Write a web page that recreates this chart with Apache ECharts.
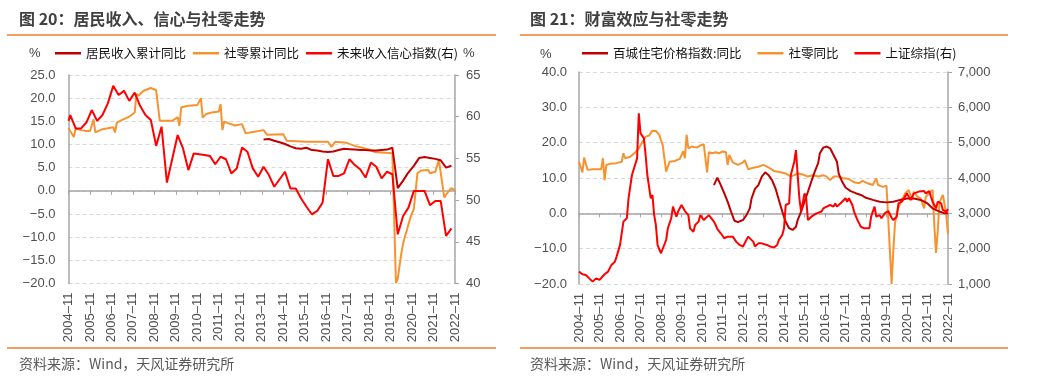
<!DOCTYPE html>
<html><head><meta charset="utf-8">
<script src="https://cdn.jsdelivr.net/npm/echarts/dist/echarts.min.js"></script>
<style>html,body{margin:0;padding:0;background:#fff}#c{width:1041px;height:385px}</style>
</head><body><div id="c"></div>
<script>
// ---------- categories (monthly, 2004-11 .. 2022-11) ----------
const months = [];
for (let i = 0; i <= 216; i++) { const t = 2004 * 12 + 10 + i; months.push(Math.floor(t / 12) + '-' + String(t % 12 + 1).padStart(2, '0')); }

// ---------- left panel: 图20 ----------
const incomeCumYoY = [['2013-12',11.1],['2014-03',11.2],['2014-06',10.8],['2014-09',10.5],['2014-12',10.1],['2015-03',9.6],['2015-06',9.2],['2015-09',9.1],['2015-12',9.3],['2016-03',8.8],['2016-06',8.7],['2016-09',8.5],['2016-12',8.4],['2017-03',8.5],['2017-06',8.8],['2017-09',9.1],['2017-12',9.0],['2018-03',8.9],['2018-06',8.8],['2018-09',8.8],['2018-12',8.7],['2019-03',8.7],['2019-06',8.8],['2019-09',8.9],['2019-12',9.3],['2020-03',0.6],['2020-06',2.2],['2020-09',4.0],['2020-12',5.4],['2021-03',7.1],['2021-06',7.3],['2021-09',7.1],['2021-12',6.9],['2022-03',6.6],['2022-06',5.0],['2022-09',5.4]];

const retailCumYoY = [['2004-11',13.5],['2004-12',13.4],['2005-02',11.6],['2005-03',13.5],['2005-06',13.1],['2005-09',12.9],['2005-11',12.9],['2006-01',15.4],['2006-02',12.6],['2006-06',13.3],['2006-12',13.7],['2007-01',12.6],['2007-02',14.7],['2007-05',15.3],['2007-09',16.0],['2007-12',16.9],['2008-01',21.0],['2008-02',20.5],['2008-05',21.6],['2008-09',22.2],['2008-12',21.7],['2009-02',15.1],['2009-09',15.1],['2009-12',15.9],['2010-01',14.0],['2010-02',18.0],['2010-05',18.3],['2010-11',18.5],['2011-01',20.0],['2011-02',15.8],['2011-04',16.6],['2011-07',16.9],['2011-11',17.1],['2011-12',18.7],['2012-01',13.1],['2012-02',14.9],['2012-05',14.5],['2012-08',14.1],['2012-12',14.4],['2013-02',12.4],['2013-06',12.7],['2013-12',13.1],['2014-02',12.1],['2014-11',12.2],['2015-01',10.8],['2015-12',10.6],['2016-01',10.4],['2016-12',10.6],['2017-02',9.5],['2017-04',10.6],['2017-10',10.4],['2018-03',9.7],['2018-12',8.8],['2019-02',8.4],['2019-03',8.0],['2019-08',8.2],['2019-12',8.1],['2020-01',8.0],['2020-02',-19.9],['2020-03',-19.0],['2020-04',-16.2],['2020-05',-13.5],['2020-06',-11.4],['2020-07',-9.9],['2020-08',-8.6],['2020-09',-7.2],['2020-10',-5.9],['2020-11',-4.8],['2020-12',-3.9],['2021-02',3.8],['2021-04',4.4],['2021-08',4.5],['2021-09',3.8],['2021-12',4.1],['2022-02',6.7],['2022-05',-1.4],['2022-07',-0.3],['2022-09',0.6],['2022-11',0.1]];

const incomeConfidence = [['2004-11',59.5],['2004-12',60.2],['2005-03',58.6],['2005-06',58.6],['2005-09',59.3],['2005-12',60.8],['2006-03',59.5],['2006-06',60.2],['2006-09',61.6],['2006-12',63.7],['2007-03',62.6],['2007-06',63.1],['2007-09',61.9],['2007-12',62.9],['2008-03',61.3],['2008-06',60.2],['2008-09',59.6],['2008-12',56.5],['2009-03',58.8],['2009-06',52.1],['2009-12',57.8],['2010-03',56.2],['2010-06',53.6],['2010-09',55.6],['2010-12',55.5],['2011-03',55.4],['2011-06',55.3],['2011-09',54.3],['2011-12',55.2],['2012-03',54.9],['2012-06',53.2],['2012-09',53.8],['2012-12',56.3],['2013-03',55.8],['2013-06',53.8],['2013-09',52.8],['2013-12',54.0],['2014-03',53.0],['2014-06',51.6],['2014-12',53.4],['2015-03',51.4],['2015-06',51.4],['2015-09',50.2],['2015-12',49.2],['2016-03',48.3],['2016-06',48.7],['2016-09',49.7],['2016-12',54.9],['2017-03',52.9],['2017-06',52.9],['2017-09',53.2],['2017-12',54.9],['2018-03',54.2],['2018-06',53.7],['2018-09',52.7],['2018-12',54.5],['2019-03',54.0],['2019-06',52.6],['2019-09',53.4],['2019-12',53.1],['2020-03',45.9],['2020-06',48.1],['2020-09',49.1],['2020-12',51.1],['2021-03',51.1],['2021-06',51.1],['2021-09',49.4],['2021-12',49.9],['2022-03',49.9],['2022-06',45.7],['2022-09',46.6]];

// ---------- right panel: 图21 ----------
const housePriceYoY = [['2011-06',8.0],['2011-08',10.1],['2011-10',8.0],['2011-12',5.7],['2012-02',3.3],['2012-04',0.5],['2012-06',-2.1],['2012-08',-2.5],['2012-11',-1.9],['2013-01',-0.5],['2013-03',1.4],['2013-04',4.2],['2013-06',6.9],['2013-08',8.0],['2013-10',10.4],['2013-12',11.6],['2014-02',10.8],['2014-04',9.4],['2014-06',7.1],['2014-08',3.8],['2014-10',0.5],['2014-12',-2.4],['2015-02',-4.2],['2015-04',-4.7],['2015-06',-3.8],['2015-07',-1.9],['2015-09',0.5],['2015-11',3.3],['2016-01',6.1],['2016-03',9.0],['2016-05',11.8],['2016-07',14.2],['2016-08',17.0],['2016-10',18.6],['2016-12',18.9],['2017-02',18.4],['2017-04',16.5],['2017-06',14.6],['2017-07',11.3],['2017-09',9.0],['2017-11',7.3],['2018-02',6.3],['2018-05',5.7],['2018-08',5.2],['2018-11',4.4],['2019-03',3.8],['2019-07',3.3],['2019-11',3.1],['2020-03',3.3],['2020-07',3.8],['2020-11',4.2],['2021-03',4.2],['2021-07',3.8],['2021-11',2.8],['2022-02',1.4],['2022-06',0.5],['2022-09',0.0],['2022-11',0.0]];

const retailYoY = [['2004-11',14.6],['2004-12',14.2],['2005-01',11.6],['2005-02',15.8],['2005-04',12.3],['2005-05',12.7],['2005-07',12.5],['2005-10',12.5],['2005-12',12.5],['2006-01',15.6],['2006-02',9.4],['2006-03',13.7],['2006-05',14.0],['2006-09',14.2],['2006-12',14.6],['2007-01',17.0],['2007-02',15.6],['2007-05',16.0],['2007-08',17.3],['2007-10',18.4],['2007-12',20.1],['2008-02',21.7],['2008-04',22.0],['2008-06',23.4],['2008-08',23.3],['2008-10',22.2],['2008-12',19.3],['2009-01',18.9],['2009-02',11.8],['2009-04',14.6],['2009-07',14.8],['2009-10',15.4],['2009-11',16.5],['2009-12',17.6],['2010-01',15.6],['2010-02',22.2],['2010-03',18.4],['2010-05',18.9],['2010-08',18.6],['2010-10',19.2],['2010-12',19.6],['2011-01',19.3],['2011-02',11.6],['2011-03',17.3],['2011-05',17.0],['2011-07',17.3],['2011-09',17.0],['2011-11',17.5],['2012-01',17.3],['2012-02',13.7],['2012-03',16.5],['2012-05',14.4],['2012-08',13.7],['2012-11',14.4],['2012-12',15.1],['2013-02',12.5],['2013-05',12.9],['2013-08',13.2],['2013-11',13.7],['2014-01',13.2],['2014-03',12.7],['2014-05',12.0],['2014-06',11.6],['2014-09',11.6],['2014-12',11.3],['2015-03',10.4],['2015-05',10.8],['2015-07',11.3],['2015-10',11.0],['2016-01',10.4],['2016-04',10.8],['2016-07',10.4],['2016-10',10.8],['2016-12',10.4],['2017-02',9.4],['2017-04',10.4],['2017-07',10.4],['2017-10',9.9],['2018-01',9.7],['2018-04',8.8],['2018-07',8.5],['2018-09',9.2],['2018-12',8.5],['2019-03',8.0],['2019-05',9.9],['2019-06',8.0],['2019-09',7.5],['2019-11',7.8],['2019-12',8.0],['2020-02',-20.0],['2020-03',-10.4],['2020-04',-2.8],['2020-05',0.0],['2020-06',1.5],['2020-07',2.8],['2020-08',4.0],['2020-09',4.7],['2020-10',5.7],['2020-11',6.1],['2020-12',6.6],['2021-02',3.8],['2021-03',6.1],['2021-05',4.7],['2021-07',4.2],['2021-09',1.4],['2021-10',4.7],['2021-11',5.2],['2021-12',5.7],['2022-02',6.6],['2022-03',-3.5],['2022-04',-11.2],['2022-05',-5.0],['2022-06',3.1],['2022-07',2.7],['2022-08',5.2],['2022-09',2.5],['2022-10',-0.5],['2022-11',-5.9]];

const shComposite = [['2004-11',1350],['2005-01',1275],['2005-03',1255],['2005-05',1160],['2005-07',1067],['2005-09',1160],['2005-11',1115],['2006-02',1275],['2006-04',1350],['2006-06',1540],['2006-08',1630],['2006-09',1775],['2006-11',2100],['2007-01',2765],['2007-03',2860],['2007-04',3425],['2007-06',4085],['2007-07',4040],['2007-09',4555],['2007-10',5830],['2007-11',5265],['2008-01',5120],['2008-02',4650],['2008-03',4085],['2008-05',3425],['2008-06',3520],['2008-07',2950],['2008-08',2670],['2008-09',2100],['2008-11',1870],['2008-12',1915],['2009-02',2245],['2009-03',2575],['2009-05',2860],['2009-06',3190],['2009-08',2905],['2009-09',3050],['2009-11',3235],['2009-12',3190],['2010-01',3065],['2010-03',2950],['2010-04',2575],['2010-06',2480],['2010-07',2670],['2010-09',2765],['2010-10',2950],['2010-12',2810],['2011-01',2860],['2011-03',2950],['2011-04',3000],['2011-06',2765],['2011-07',2670],['2011-08',2555],['2011-10',2435],['2011-12',2295],['2012-02',2340],['2012-03',2295],['2012-05',2340],['2012-07',2200],['2012-09',2105],['2012-11',2060],['2012-12',2105],['2013-02',2340],['2013-03',2295],['2013-05',2200],['2013-06',2060],['2013-08',2150],['2013-10',2150],['2014-01',2105],['2014-03',2060],['2014-05',2030],['2014-07',2105],['2014-08',2245],['2014-10',2390],['2014-11',2575],['2014-12',3235],['2015-02',3280],['2015-03',4085],['2015-05',4460],['2015-06',4790],['2015-07',4085],['2015-08',3425],['2015-09',3050],['2015-11',3565],['2015-12',3425],['2016-01',2810],['2016-03',2905],['2016-04',2860],['2016-06',3000],['2016-07',2950],['2016-09',3050],['2016-10',3140],['2016-12',3190],['2017-01',3140],['2017-02',3235],['2017-04',3190],['2017-05',3280],['2017-06',3190],['2017-08',3280],['2017-09',3330],['2017-11',3425],['2017-12',3330],['2018-01',3425],['2018-03',3235],['2018-04',3050],['2018-06',2810],['2018-07',2715],['2018-08',2620],['2018-10',2575],['2018-11',2620],['2019-01',2575],['2019-02',2905],['2019-04',3190],['2019-05',2905],['2019-07',2950],['2019-08',2860],['2019-10',3000],['2019-11',2950],['2019-12',3065],['2020-02',2875],['2020-03',2810],['2020-05',2905],['2020-06',3280],['2020-08',3330],['2020-09',3375],['2020-11',3565],['2020-12',3520],['2021-01',3375],['2021-03',3565],['2021-04',3520],['2021-06',3615],['2021-07',3565],['2021-09',3630],['2021-10',3565],['2021-12',3630],['2022-01',3470],['2022-02',3330],['2022-04',3140],['2022-05',3330],['2022-07',3280],['2022-08',3095],['2022-10',3050],['2022-11',3120]];

// ---------- styling ----------
const DARKRED = '#C00000', ORANGE = '#F7932F', RED = '#FF0000', SEP = '#ED7D31';
const AX = '#A6A6A6', LBL = '#505050';
const NUMFONT = '"Liberation Sans", Arial, sans-serif';
const CJK = '"Noto Sans CJK SC", sans-serif';
const minus = s => String(s).replace('-', '\u2212');

function labelXAxis(grid) {
  return { type: 'category', gridIndex: grid, data: months, boundaryGap: false, position: 'bottom',
    axisLine: { show: false, onZero: false }, axisTick: { show: false }, splitLine: { show: false },
    axisLabel: { rotate: 90, interval: 11, margin: 9, color: LBL, fontSize: 13, fontFamily: NUMFONT,
      formatter: v => v.replace('-', '\u2013') } };
}
function zeroXAxis(grid) {
  return { type: 'category', gridIndex: grid, data: months, boundaryGap: false, position: 'top',
    axisLine: { show: true, onZero: true, lineStyle: { color: AX, width: 1.5 } },
    axisTick: { show: true, inside: true, interval: 11, length: 4, lineStyle: { color: AX } },
    axisLabel: { show: false }, splitLine: { show: false } };
}
function yAx(grid, pos, min, max, interval, fmt, split, tick, margin) {
  return { type: 'value', gridIndex: grid, position: pos, min, max, interval,
    axisLine: { show: true, onZero: false, lineStyle: { color: AX, width: 1.5 } },
    axisTick: { show: tick, length: 4, lineStyle: { color: AX } },
    splitLine: { show: split, lineStyle: { color: '#D9D9D9', type: [4, 3], width: 1 } },
    axisLabel: { color: LBL, fontSize: 13, fontFamily: NUMFONT, margin, formatter: fmt } };
}
function line(name, data, x, y, color) {
  return { name, type: 'line', data, xAxisIndex: x, yAxisIndex: y, symbol: 'none', showSymbol: false,
    lineStyle: { color, width: 2 }, itemStyle: { color }, color, animation: false, z: 3 };
}
function txt(x, y, text, font, fill) {
  return { type: 'text', left: x, top: y, style: { text, font, fill } };
}
function hline(x1, x2, y) {
  return { type: 'line', shape: { x1, y1: y, x2, y2: y }, style: { stroke: SEP, lineWidth: 1.5 } };
}

const option = {
  animation: false,
  backgroundColor: '#fff',
  grid: [
    { left: 68.5, right: 1041 - 455, top: 75, bottom: 385 - 283.5, containLabel: false, outerBoundsMode: 'none' },
    { left: 579, right: 1041 - 948, top: 72, bottom: 385 - 284, containLabel: false, outerBoundsMode: 'none' }
  ],
  legend: [
    { data: ['居民收入累计同比', '社零累计同比', '未来收入信心指数(右)'], left: 55, top: 47, icon: 'rect',
      itemWidth: 26, itemHeight: 2.5, itemGap: 7, padding: 0,
      textStyle: { color: '#111', fontSize: 12.5, fontFamily: CJK } },
    { data: ['百城住宅价格指数:同比', '社零同比', '上证综指(右)'], left: 582, top: 47, icon: 'rect',
      itemWidth: 26, itemHeight: 2.5, itemGap: 16, padding: 0,
      textStyle: { color: '#111', fontSize: 12.5, fontFamily: CJK } }
  ],
  xAxis: [labelXAxis(0), zeroXAxis(0), labelXAxis(1), zeroXAxis(1)],
  yAxis: [
    yAx(0, 'left', -20, 25, 5, v => minus(v.toFixed(1)), true, false, 13),
    yAx(0, 'right', 40, 65, 5, v => String(v), false, true, 11),
    yAx(1, 'left', -20, 40, 10, v => minus(v.toFixed(1)), true, false, 12),
    yAx(1, 'right', 1000, 7000, 1000, v => v.toLocaleString('en-US'), false, true, 10)
  ],
  series: [
    line('社零累计同比', retailCumYoY, 0, 0, ORANGE),
    line('居民收入累计同比', incomeCumYoY, 0, 0, DARKRED),
    line('未来收入信心指数(右)', incomeConfidence, 0, 1, RED),
    line('社零同比', retailYoY, 2, 2, ORANGE),
    line('百城住宅价格指数:同比', housePriceYoY, 2, 2, DARKRED),
    line('上证综指(右)', shComposite, 2, 3, RED)
  ],
  graphic: [
    txt(19, 11, '图 20：居民收入、信心与社零走势', 'bold 16px ' + CJK, '#404040'),
    txt(530, 11, '图 21：财富效应与社零走势', 'bold 16px ' + CJK, '#404040'),
    hline(7, 496, 35), hline(520, 1008, 35),
    hline(7, 496, 348), hline(520, 1008, 348),
    txt(29, 47, '%', '13px ' + NUMFONT, '#404040'),
    txt(463, 47, '%', '13px ' + NUMFONT, '#404040'),
    txt(540, 48, '%', '13px ' + NUMFONT, '#404040'),
    txt(19, 357, '资料来源：Wind，天风证券研究所', '14px ' + CJK, '#595959'),
    txt(530, 357, '资料来源：Wind，天风证券研究所', '14px ' + CJK, '#595959')
  ]
};
const chart = echarts.init(document.getElementById('c'), null, { renderer: 'canvas' });
chart.setOption(option);
</script>
</body></html>
